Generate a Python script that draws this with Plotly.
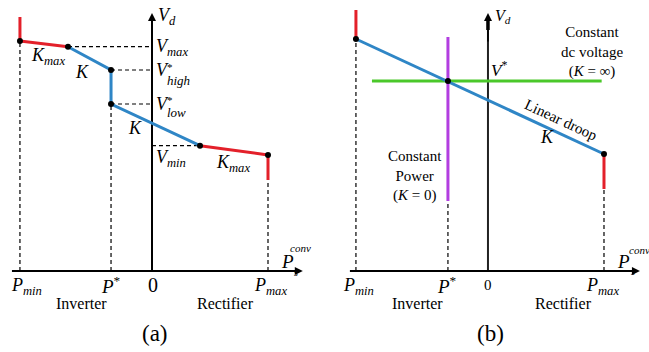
import plotly.graph_objects as go

# ---------------- data (normalised units: P in p.u. of Pmax, V in arbitrary units) ----
# Panel (a): piecewise droop characteristic
a_P = [-1.138, -0.724, -0.353, -0.353, 0.414, 1.0]
a_V = [2.30, 2.243, 2.01, 1.67, 1.253, 1.16]
a_red_top_V = [2.54, 2.30]
a_red_bot_V = [1.16, 0.91]

# Panel (b): linear droop, constant power, constant dc voltage
b_P_min, b_P_star, b_P_max = -1.138, -0.345, 1.0
b_droop_V = [2.32, 1.17]
b_red_top_V = [2.61, 2.32]
b_red_bot_V = [1.17, 0.82]
b_Vstar = 1.90
b_green_P = [-1.0, 0.98]
b_purple_V = [2.34, 0.70]

axis_top = 2.58
a_xaxis_P = [-1.207, 1.30]
b_xaxis_P = [-1.19, 1.31]

BLUE = "#2f86c6"
RED = "#e3202a"
GREEN = "#4bc82a"
PURPLE = "#b23ee0"
FONT = "Liberation Serif, Times New Roman, DejaVu Serif, serif"

fig = go.Figure()

def line(xs, ys, color, width, xa="x", dash=None):
    fig.add_trace(go.Scatter(x=xs, y=ys, mode="lines", xaxis=xa, yaxis="y",
                             line=dict(color=color, width=width, dash=dash),
                             hoverinfo="skip", showlegend=False))

def dots(xs, ys, xa="x"):
    fig.add_trace(go.Scatter(x=xs, y=ys, mode="markers", xaxis=xa, yaxis="y",
                             marker=dict(color="black", size=6),
                             hoverinfo="skip", showlegend=False))

DASH = "4px,3px"
# ---------- panel (a) ----------
line([a_P[1], 0], [a_V[1], a_V[1]], "black", 1.2, dash=DASH)
line([a_P[2], 0], [a_V[2], a_V[2]], "black", 1.2, dash=DASH)
line([a_P[3], 0], [a_V[3], a_V[3]], "black", 1.2, dash=DASH)
line([0, a_P[4]], [a_V[4], a_V[4]], "black", 1.2, dash=DASH)
line([a_P[0], a_P[0]], [0, a_V[0]], "black", 1.2, dash=DASH)
line([a_P[3], a_P[3]], [0, a_V[3]], "black", 1.2, dash=DASH)
line([a_P[5], a_P[5]], [0, a_red_bot_V[1]], "black", 1.2, dash=DASH)
line([0, 0], [0, axis_top - 0.05], "black", 2)
line([a_xaxis_P[0], a_xaxis_P[1] - 0.05], [0, 0], "black", 2)
line(a_P[1:5], a_V[1:5], BLUE, 3)
line(a_P[0:2], a_V[0:2], RED, 3)
line(a_P[4:6], a_V[4:6], RED, 3)
line([a_P[0], a_P[0]], a_red_top_V, RED, 3)
line([a_P[5], a_P[5]], a_red_bot_V, RED, 3)
dots(a_P, a_V)

# ---------- panel (b) ----------
line([b_P_min, b_P_min], [0, b_droop_V[0]], "black", 1.2, "x2", DASH)
line([b_P_star, b_P_star], [0, b_purple_V[1]], "black", 1.2, "x2", DASH)
line([b_P_max, b_P_max], [0, b_red_bot_V[1]], "black", 1.2, "x2", DASH)
line([0, 0], [0, axis_top - 0.05], "#222222", 2, "x2")
line([0, 0], [2.41, axis_top - 0.04], "black", 3.5, "x2")
line([b_xaxis_P[0], b_xaxis_P[1] - 0.05], [0, 0], "black", 2, "x2")
line(b_green_P, [b_Vstar, b_Vstar], GREEN, 3, "x2")
line([b_P_star, b_P_star], b_purple_V, PURPLE, 3, "x2")
line([b_P_min, b_P_max], b_droop_V, BLUE, 3, "x2")
line([b_P_min, b_P_min], b_red_top_V, RED, 3, "x2")
line([b_P_max, b_P_max], b_red_bot_V, RED, 3, "x2")
dots([b_P_min, b_P_star, b_P_max], [b_droop_V[0], b_Vstar, b_droop_V[1]], "x2")

ann = []

def txt(x, y, s, xa="x", size=17, xanchor="center", angle=0):
    ann.append(dict(x=x, y=y, xref=xa, yref="y", text=s, showarrow=False,
                    xanchor=xanchor, yanchor="middle", textangle=angle,
                    borderpad=0,
                    font=dict(family=FONT, size=size, color="black")))

def arrow(x, y, ax, ay, xa="x"):
    ann.append(dict(x=x, y=y, ax=ax, ay=ay, xref=xa, yref="y", axref=xa, ayref="y",
                    showarrow=True, arrowhead=2, arrowsize=1, arrowwidth=1.6,
                    arrowcolor="black", text=""))

for xa, xr in (("x", a_xaxis_P), ("x2", b_xaxis_P)):
    arrow(0, axis_top, 0, axis_top - 0.3, xa)
    arrow(xr[1], 0, xr[1] - 0.3, 0, xa)

# panel (a) labels
txt(0.04, 2.55, "<i>V<sub>d</sub></i>", xanchor="left", size=18)
txt(0.025, 2.24, "<i>V<sub>max</sub></i>", xanchor="left", size=18)
txt(0.025, 2.01, "<i>V</i>", xanchor="left", size=18)
txt(0.125, 2.045, "*", xanchor="left", size=11)
txt(0.125, 1.91, "<i>high</i>", xanchor="left", size=13)
txt(0.025, 1.67, "<i>V</i>", xanchor="left", size=18)
txt(0.125, 1.71, "*", xanchor="left", size=11)
txt(0.125, 1.59, "<i>low</i>", xanchor="left", size=13)
txt(0.025, 1.13, "<i>V<sub>min</sub></i>", xanchor="left", size=18)
txt(-0.90, 2.15, "<i>K<sub>max</sub></i>", size=18)
txt(-0.60, 1.99, "<i>K</i>", size=18)
txt(-0.15, 1.43, "<i>K</i>", size=18)
txt(0.70, 1.08, "<i>K<sub>max</sub></i>", size=18)
txt(-1.08, -0.15, "<i>P<sub>min</sub></i>", size=18)
txt(-0.35, -0.14, "<i>P</i><sup>*</sup>", size=19)
txt(0.01, -0.14, "0", size=20)
txt(1.02, -0.15, "<i>P<sub>max</sub></i>", size=18)
txt(1.164, 0.10, "<i>P</i>", size=19)
txt(1.28, 0.23, "<i>conv</i>", size=11)
txt(1.24, -0.01, "<i>s</i>", size=10)
txt(-0.61, -0.32, "Inverter", size=16)
txt(0.63, -0.32, "Rectifier", size=16)
txt(0.026, -0.62, "(a)", size=23)

# panel (b) labels
txt(0.05, 2.55, "<i>V<sub>d</sub></i>", "x2", xanchor="left", size=16)
txt(0.02, 2.02, "<i>V</i><sup>*</sup>", "x2", xanchor="left", size=17)
txt(0.90, 2.19, "Constant<br>dc voltage<br>(<i>K</i> = ∞)", "x2", size=15)
txt(0.63, 1.51, "Linear droop", "x2", size=15, angle=25)
txt(0.51, 1.34, "<i>K</i>", "x2", size=18)
txt(-0.63, 0.95, "Constant<br>Power<br>(<i>K</i> = 0)", "x2", size=15)
txt(-1.12, -0.15, "<i>P<sub>min</sub></i>", "x2", size=18)
txt(-0.35, -0.14, "<i>P</i><sup>*</sup>", "x2", size=19)
txt(0.0, -0.14, "0", "x2", size=15)
txt(0.99, -0.15, "<i>P<sub>max</sub></i>", "x2", size=18)
txt(1.164, 0.10, "<i>P</i>", "x2", size=19)
txt(1.31, 0.21, "<i>conv</i>", "x2", size=11)
txt(1.25, 0.0, "<i>s</i>", "x2", size=10)
txt(-0.61, -0.32, "Inverter", "x2", size=16)
txt(0.65, -0.32, "Rectifier", "x2", size=16)
txt(0.02, -0.62, "(b)", "x2", size=23)

ax_common = dict(visible=False, showgrid=False, zeroline=False, fixedrange=True)
fig.update_layout(
    width=649, height=352,
    margin=dict(l=0, r=0, t=0, b=0),
    paper_bgcolor="white", plot_bgcolor="white",
    font=dict(family=FONT, color="black"),
    xaxis=dict(domain=[0, 0.5], range=[-1.310, 1.487], anchor="y", **ax_common),
    xaxis2=dict(domain=[0.5, 1], range=[-1.409, 1.388], anchor="y", **ax_common),
    yaxis=dict(domain=[0, 1], range=[-0.81, 2.71], **ax_common),
    annotations=ann,
    showlegend=False,
)

fig.write_html("out.html", config={"displayModeBar": False},
               post_script="document.body.style.margin='0px';document.body.style.overflow='hidden';")
